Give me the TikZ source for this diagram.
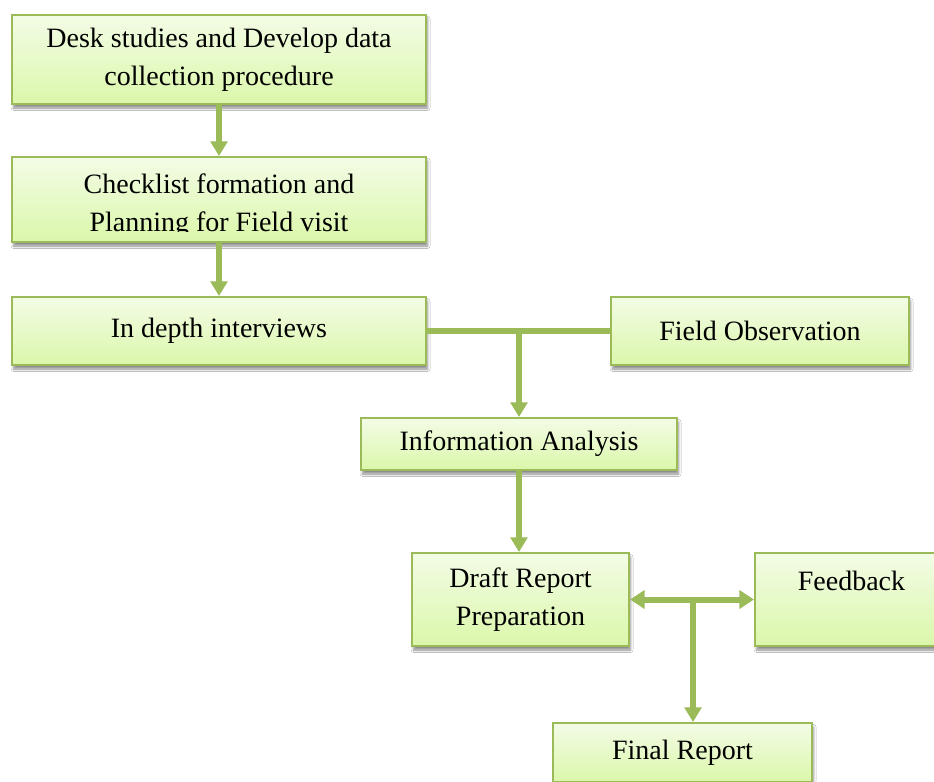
\documentclass[tikz,border=0pt]{standalone}
\usepackage{fontspec}
\setmainfont{Liberation Serif}
\usetikzlibrary{arrows.meta,shadows,shadows.blur}
\definecolor{boxline}{RGB}{155,187,89}
\definecolor{boxtop}{RGB}{243,252,230}
\definecolor{boxbot}{RGB}{219,247,170}
\definecolor{conn}{RGB}{155,187,89}
\tikzset{
  stepbox/.style={draw=boxline, line width=1.5pt, top color=boxtop, bottom color=boxbot,
    rectangle, inner sep=0pt, align=center, font=\fontsize{21}{28.5}\selectfont,
    blur shadow={shadow xshift=1.2pt, shadow yshift=-3pt, shadow blur steps=6, shadow opacity=45}},
  plaintext/.style={inner sep=0pt, align=center, font=\fontsize{21}{28.5}\selectfont},
  flow/.style={draw=conn, line width=4.5pt, -{Triangle[width=12.5pt,length=11pt]}},
  biflow/.style={draw=conn, line width=4.5pt, {Triangle[width=13.5pt,length=11pt]}-{Triangle[width=13.5pt,length=11pt]}},
  link/.style={draw=conn, line width=4.3pt}
}
\begin{document}
\begin{tikzpicture}[x=0.75pt,y=-0.75pt]
\useasboundingbox (0,0) rectangle (934,781);
\fill[white] (0,0) rectangle (934,781);

\node[stepbox, minimum width=310.5pt, minimum height=66.75pt] (n1) at (219,59.5)
  {Desk studies and Develop data\\collection procedure};
\node[stepbox, minimum width=310.5pt, minimum height=63.75pt] (n2) at (219,199.5) {};
\begin{scope}
  \clip (14,159) rectangle (424,231);
  \node[plaintext] (n2text) at (219,206) {Checklist formation and\\Planning for Field visit};
\end{scope}
\node[stepbox, minimum width=310.5pt, minimum height=51pt] (n3) at (219,331) {In depth interviews};
\node[stepbox, minimum width=223.5pt, minimum height=51pt] (n4) at (760,331) {Field Observation};
\node[stepbox, minimum width=237pt, minimum height=39pt] (n5) at (519,444) {Information Analysis};
\node[stepbox, minimum width=162.75pt, minimum height=69.75pt] (n6) at (520.5,599.5) {Draft Report\\Preparation};
\node[stepbox, minimum width=144.75pt, minimum height=69.75pt] (n7) at (851.5,599.5) {Feedback\\~};
\node[stepbox, minimum width=194.25pt, minimum height=44.25pt] (n8) at (682.5,752.5) {Final Report};

\draw[flow] (n1) -- (n2);
\draw[flow] (n2) -- (n3);
\draw[link] (n3.east) -- (n4.west);
\coordinate (j1) at (n5.north |- n3.east);
\draw[flow] (j1) -- (n5.north);
\draw[flow] (n5) -- (n5.south |- n6.north);
\draw[biflow] (n6.east) -- (n7.west);
\coordinate (j2) at (693,599.5);
\draw[flow] (j2) -- (j2 |- n8.north);
\end{tikzpicture}
\end{document}
